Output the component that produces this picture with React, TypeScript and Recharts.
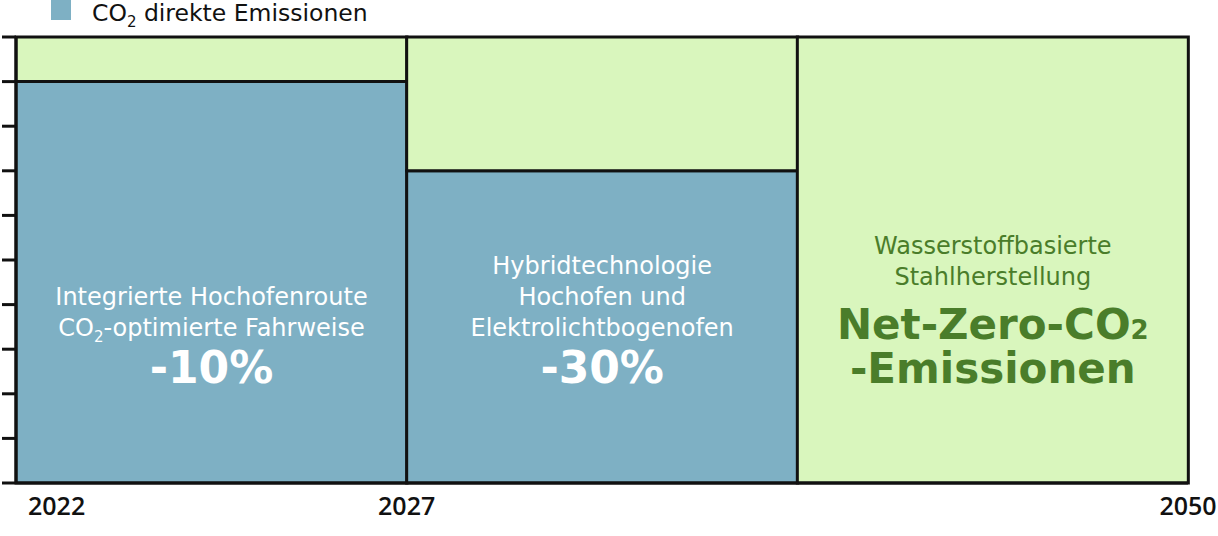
import React from 'react';
import { BarChart, Bar, XAxis, YAxis, Legend, LabelList } from 'recharts';

// ---- data ----
const phases = ['Phase 1', 'Phase 2', 'Phase 3'];
const directEmissions = [90, 70, 0];
const reduction = [10, 30, 100];
const yTicks = [0, 10, 20, 30, 40, 50, 60, 70, 80, 90, 100];
// year label of each phase, and whether it marks the phase start or its end
const yearLabels = ['2022', '2027', '2050'];
const yearAtEnd = [false, false, true];
const descLines = [
  ['Integrierte Hochofenroute', 'CO₂-optimierte Fahrweise'],
  ['Hybridtechnologie', 'Hochofen und', 'Elektrolichtbogenofen'],
  ['Wasserstoffbasierte', 'Stahlherstellung'],
];
const headlineLines = [['-10%'], ['-30%'], ['Net-Zero-CO₂', '-Emissionen']];
const legendLabel = 'CO₂ direkte Emissionen';

const data = phases.map((p, i) => ({
  phase: p,
  direct: directEmissions[i],
  reduction: reduction[i],
}));

// ---- layout / style ----
const W = 1218;
const H = 536;
const MARGIN = { top: 13, right: 30, bottom: 0, left: 0 };
const Y_AXIS_W = 16;
const X_AXIS_H = 53;
const PLOT_BOTTOM = H - MARGIN.bottom - X_AXIS_H;
const PLOT_W = W - MARGIN.left - MARGIN.right - Y_AXIS_W;
const FONT = '"DejaVu Sans", "Open Sans", sans-serif';
const AXIS_FONT = '"Open Sans", "Noto Sans", sans-serif';
const BLUE = '#7eb0c4';
const GREEN = '#d9f6bd';
const DARK_GREEN = '#4a7d2a';
const INK = '#111';

function renderSub(text: string, subSize: number, dy: number) {
  const parts = text.split('₂');
  const out: React.ReactNode[] = [];
  parts.forEach((p, i) => {
    if (p.length > 0) {
      out.push(
        <tspan key={'t' + i} dy={i > 0 ? -dy : undefined}>
          {p}
        </tspan>
      );
    }
    if (i < parts.length - 1) {
      out.push(
        <tspan key={'s' + i} fontSize={subSize} dy={dy}>
          2
        </tspan>
      );
    }
  });
  return out;
}

const PhaseLabel = (props: any) => {
  const { x, width, index } = props;
  const cx = x + width / 2;
  const color = directEmissions[index] > 0 ? '#ffffff' : DARK_GREEN;
  const heads = headlineLines[index];
  const descs = descLines[index];
  const lastBase = PLOT_BOTTOM - 100;
  const headLH = 44;
  const descLH = 31;
  const firstHead = lastBase - (heads.length - 1) * headLH;
  const lastDesc = firstHead - (heads.length > 1 ? 54 : 47);
  const firstDesc = lastDesc - (descs.length - 1) * descLH;
  return (
    <g>
      {descs.map((l, i) => (
        <text
          key={'d' + i}
          x={cx}
          y={firstDesc + i * descLH}
          textAnchor="middle"
          fill={color}
          fontFamily={FONT}
          fontSize={24}
        >
          {renderSub(l, 15, 6)}
        </text>
      ))}
      {heads.map((l, i) => (
        <text
          key={'h' + i}
          x={cx}
          y={firstHead + i * headLH}
          textAnchor="middle"
          fill={color}
          fontFamily={FONT}
          fontSize={index === 2 ? 42 : 44}
          fontWeight={700}
        >
          {renderSub(l, 26, 0)}
        </text>
      ))}
    </g>
  );
};

const YearTick = (props: any) => {
  const { x, y, index } = props;
  const bw = PLOT_W / phases.length;
  const first = index === 0;
  const tx = yearAtEnd[index] ? x + bw / 2 : x - bw / 2;
  return (
    <text
      x={first ? tx + 12 : tx}
      y={y + 32}
      textAnchor={first ? 'start' : 'middle'}
      fill={INK}
      fontFamily={AXIS_FONT}
      fontSize={25}
      fontWeight={600}
    >
      {yearLabels[index]}
    </text>
  );
};

const LegendContent = () => {
  const parts = legendLabel.split('₂');
  return (
    <div style={{ position: 'relative', height: 24, fontFamily: FONT }}>
      <div
        style={{
          position: 'absolute',
          left: 0,
          top: 0,
          width: 20,
          height: 20,
          background: BLUE,
        }}
      />
      <div
        style={{
          position: 'absolute',
          left: 41,
          top: 2,
          fontSize: 23.5,
          lineHeight: '22px',
          color: INK,
          whiteSpace: 'nowrap',
        }}
      >
        {parts[0]}
        <span style={{ fontSize: 15, position: 'relative', top: 6 }}>2</span>
        {parts[1]}
      </div>
    </div>
  );
};

export default function App() {
  return (
    <div style={{ position: 'absolute', left: 0, top: 0, width: W, height: H, fontFamily: FONT }}>
      <BarChart
        width={W}
        height={H}
        data={data}
        margin={MARGIN}
        barCategoryGap={0}
        barGap={0}
      >
        <Legend
          verticalAlign="top"
          align="left"
          height={24}
          wrapperStyle={{ top: 0, left: 51, width: 400, height: 24 }}
          content={<LegendContent />}
        />
        <XAxis
          dataKey="phase"
          height={X_AXIS_H}
          tickLine={false}
          tickSize={0}
          tickMargin={0}
          axisLine={{ stroke: INK, strokeWidth: 3 }}
          tick={<YearTick />}
          interval={0}
        />
        <YAxis
          width={Y_AXIS_W}
          domain={[0, 100]}
          ticks={yTicks}
          tickSize={14}
          tickLine={{ stroke: INK, strokeWidth: 3 }}
          axisLine={{ stroke: INK, strokeWidth: 3 }}
          tick={() => <g />}
          interval={0}
        />
        <Bar
          dataKey="direct"
          stackId="a"
          fill={BLUE}
          stroke={INK}
          strokeWidth={3}
          isAnimationActive={false}
        />
        <Bar
          dataKey="reduction"
          stackId="a"
          fill={GREEN}
          stroke={INK}
          strokeWidth={3}
          isAnimationActive={false}
        >
          <LabelList dataKey="reduction" content={<PhaseLabel />} />
        </Bar>
      </BarChart>
    </div>
  );
}
